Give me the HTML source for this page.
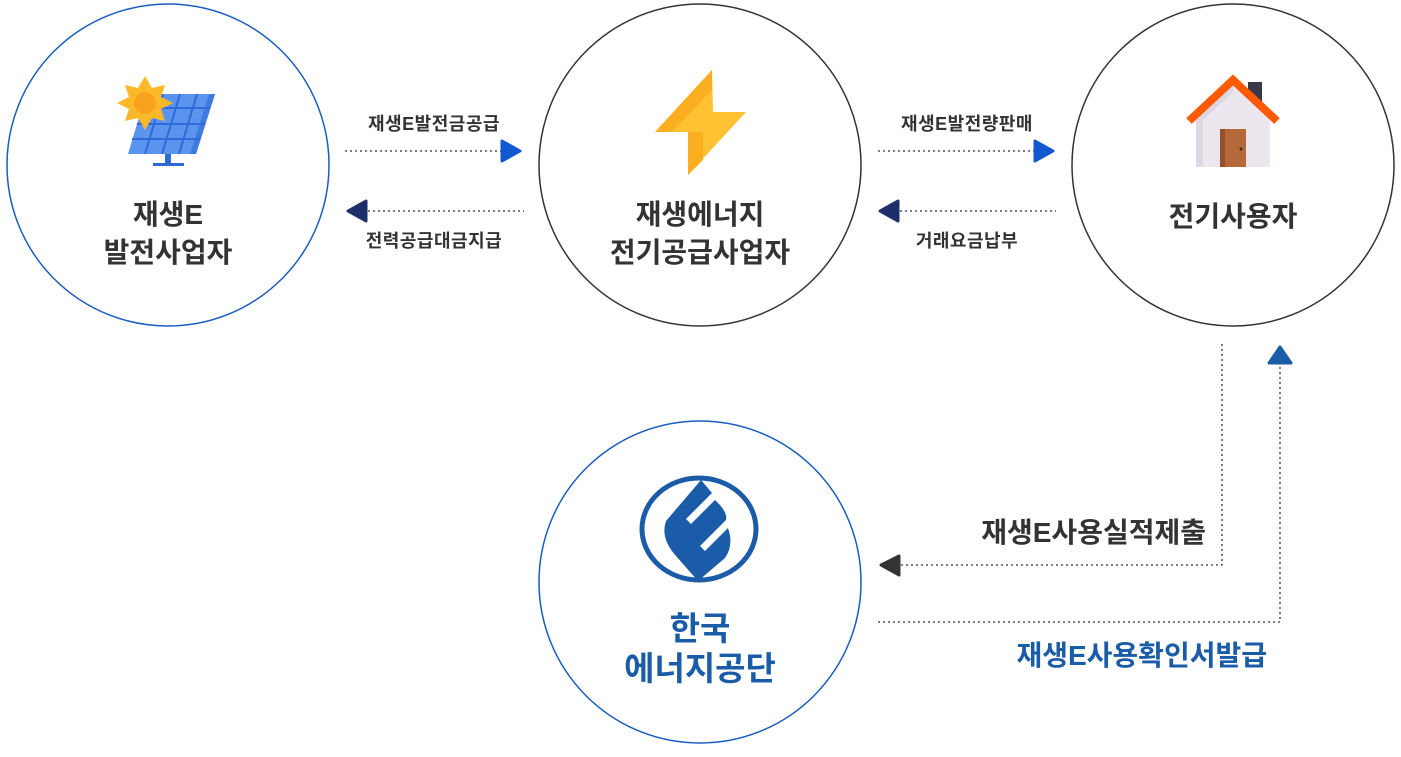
<!DOCTYPE html>
<html><head><meta charset="utf-8"><style>
body{margin:0;background:#fff;}
svg text{font-family:"Liberation Sans","Noto Sans CJK KR",sans-serif;font-weight:bold;}
</style></head><body>
<svg width="1401" height="752" viewBox="0 0 1401 752" xmlns="http://www.w3.org/2000/svg">
<circle cx="168" cy="165" r="161" fill="#fff" stroke="#1a5cc0" stroke-width="1.5"/>
<circle cx="700" cy="165" r="161" fill="#fff" stroke="#333" stroke-width="1.5"/>
<circle cx="1233" cy="165" r="161" fill="#fff" stroke="#333" stroke-width="1.5"/>
<circle cx="700" cy="582" r="161" fill="#fff" stroke="#1a5cc0" stroke-width="1.5"/>

<!-- solar panel -->
<polygon points="146,94 215,94 196,154 128,154" fill="#5b94ef"/>
<polygon points="209,94 215,94 196,154 190,154" fill="#3e7ae0"/>
<g stroke="#2f6ad8" stroke-width="2">
<line x1="142" y1="108" x2="210" y2="108"/><line x1="137" y1="124" x2="205" y2="124"/><line x1="132" y1="139" x2="200" y2="139"/>
<line x1="163" y1="94" x2="145" y2="154"/><line x1="180" y1="94" x2="162" y2="154"/><line x1="197" y1="94" x2="179" y2="154"/>
</g>
<rect x="165" y="154" width="6" height="10" fill="#2f6ad8"/><rect x="153" y="163" width="31" height="3" fill="#2f6ad8"/>
<polygon points="145,76 152,88 165,85 161,97 173,103 161,109 165,121 152,118 145,130 138,118 125,121 129,109 117,103 129,97 125,85 138,88" fill="#fbb828"/>
<circle cx="145" cy="103" r="11" fill="#f9a21e"/>

<!-- lightning -->
<polygon points="712,70 713,112 746,112 688,175 688,132 655,132" fill="#ffc233"/>
<polygon points="712,70 712,90 672,132 655,132" fill="#fbaf20"/>
<polygon points="688,132 703,132 703,160 688,175" fill="#fbaf20"/>

<!-- house -->
<rect x="1248" y="82" width="14" height="30" fill="#3a3848"/>
<polygon points="1233,85 1196,120 1196,167 1270,167 1270,120" fill="#ece7ef"/>
<polygon points="1233,85 1196,120 1196,167 1203,167 1203,120 1233,92" fill="#ddd6e3"/>
<polyline points="1189,121 1233,80 1277,121" fill="none" stroke="#ff5a00" stroke-width="8" stroke-linejoin="miter"/>
<rect x="1220" y="129" width="26" height="38" fill="#b5683a"/>
<rect x="1220" y="129" width="5" height="38" fill="#96512a"/>
<circle cx="1241" cy="149" r="1.5" fill="#333"/>

<!-- KEA logo -->
<ellipse cx="699" cy="529" rx="57" ry="51" fill="none" stroke="#1a5ca8" stroke-width="5"/>
<path d="M701,480 L712,493 L686,519 L691,524 L715,500 Q728,512 726,520 L700,546 L705,551 L728,528 Q734,545 725,558 L698,581 L676,556 Q660,538 666,521 Z" fill="#1a5ca8"/>

<!-- texts in circles -->
<g font-size="28" fill="#333" text-anchor="middle">
<text x="168" y="224">재생E</text><text x="168" y="262">발전사업자</text>
<text x="700" y="224">재생에너지</text><text x="700" y="262">전기공급사업자</text>
<text x="1233" y="226">전기사용자</text>
</g>
<g font-size="33" fill="#1a5ca8" text-anchor="middle">
<text x="700" y="640">한국</text><text x="700" y="680">에너지공단</text>
</g>

<!-- top connectors -->
<g font-size="18" fill="#333" text-anchor="middle" letter-spacing="0.5">
<text x="434" y="130">재생E발전금공급</text>
<text x="434" y="247">전력공급대금지급</text>
<text x="967" y="130">재생E발전량판매</text>
<text x="967" y="247">거래요금납부</text>
</g>
<g stroke="#333" stroke-width="1.3" stroke-dasharray="2,3" fill="none">
<line x1="345" y1="151" x2="502" y2="151"/>
<line x1="368" y1="211" x2="524" y2="211"/>
<line x1="878" y1="151" x2="1035" y2="151"/>
<line x1="900" y1="211" x2="1056" y2="211"/>
<polyline points="1222,344 1222,565 900,565"/>
<polyline points="878,622 1280,622 1280,366"/>
</g>
<g stroke-linejoin="round" stroke-width="3">
<polygon points="502,141 520,151 502,161" fill="#1258d0" stroke="#1258d0"/>
<polygon points="366,201 348,211 366,221" fill="#1d2e6b" stroke="#1d2e6b"/>
<polygon points="1035,141 1053,151 1035,161" fill="#1258d0" stroke="#1258d0"/>
<polygon points="898,201 880,211 898,221" fill="#1d2e6b" stroke="#1d2e6b"/>
<polygon points="899,556 881,565 899,575" fill="#333" stroke="#333"/>
<polygon points="1269,363 1280,347 1291,363" fill="#1a5ca8" stroke="#1a5ca8"/>
</g>
<text x="1206" y="542" font-size="28" fill="#333" text-anchor="end">재생E사용실적제출</text>
<text x="1267" y="665" font-size="28" fill="#1a5ca8" text-anchor="end">재생E사용확인서발급</text>
</svg>
</body></html>
